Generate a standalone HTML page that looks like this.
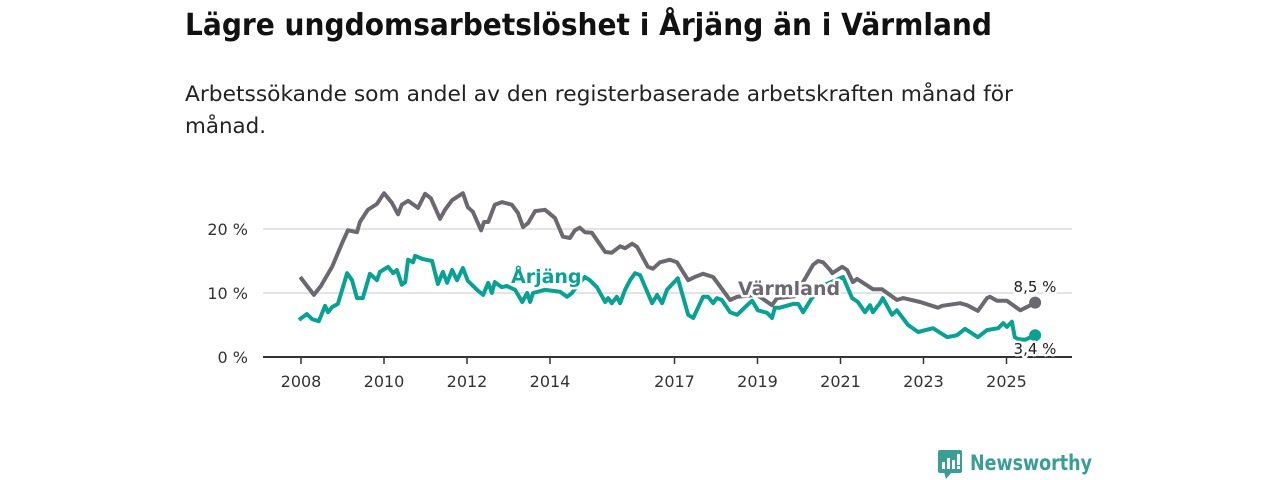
<!DOCTYPE html>
<html><head><meta charset="utf-8"><style>
html,body{margin:0;padding:0;background:#fff;width:1280px;height:480px;overflow:hidden}
svg{display:block;font-family:"DejaVu Sans","Liberation Sans",sans-serif}
</style></head><body>
<svg id="chart" width="1280" height="480" viewBox="0 0 1280 480">
<text x="185" y="35" font-size="30" font-weight="bold" fill="#111" textLength="807" lengthAdjust="spacingAndGlyphs">Lägre ungdomsarbetslöshet i Årjäng än i Värmland</text>
<text x="185" y="101" font-size="21" fill="#222" textLength="828" lengthAdjust="spacingAndGlyphs">Arbetssökande som andel av den registerbaserade arbetskraften månad för</text>
<text x="185" y="133" font-size="21" fill="#222" textLength="81" lengthAdjust="spacingAndGlyphs">månad.</text>
<g id="grid"></g><g id="series"></g><g id="labels"></g>
<g>
<rect x="938" y="450" width="24" height="23" rx="2" fill="#3a9e94"/>
<polygon points="944,472 952,472 946,479" fill="#3a9e94"/>
<rect x="942" y="462" width="3" height="7" fill="#fff"/><rect x="947" y="458" width="3" height="11" fill="#fff"/><rect x="952" y="460" width="3" height="9" fill="#fff"/><rect x="957" y="454" width="3" height="11" fill="#fff"/><rect x="957" y="466" width="3" height="3" fill="#fff"/>
<text x="970" y="470" font-size="21" font-weight="bold" fill="#3a9e94" textLength="122" lengthAdjust="spacingAndGlyphs">Newsworthy</text>
</g>
</svg>
<script>
const yTicks=[0,10,20];
const xTicks=[2008,2010,2012,2014,2017,2019,2021,2023,2025];
const varmYears=[2007.98,2008.31,2008.48,2008.75,2008.99,2009.13,2009.35,2009.42,2009.61,2009.83,2010.0,2010.19,2010.34,2010.43,2010.58,2010.82,2010.99,2011.13,2011.35,2011.47,2011.64,2011.9,2012.02,2012.14,2012.34,2012.41,2012.51,2012.67,2012.84,2013.08,2013.23,2013.35,2013.47,2013.64,2013.88,2014.12,2014.31,2014.48,2014.6,2014.72,2014.84,2015.01,2015.33,2015.49,2015.69,2015.81,2015.98,2016.1,2016.36,2016.48,2016.65,2016.89,2017.06,2017.33,2017.49,2017.69,2017.93,2018.34,2018.51,2018.99,2019.35,2019.47,2019.9,2020.34,2020.46,2020.58,2020.75,2020.8,2021.04,2021.16,2021.3,2021.4,2021.78,2022.0,2022.36,2022.51,2022.92,2023.35,2023.45,2023.88,2024.05,2024.31,2024.53,2024.6,2024.77,2025.01,2025.33,2025.49,2025.69];
const varmValues=[12.5,9.7,11.1,14.1,17.8,19.8,19.5,21.1,23.0,23.9,25.6,24.1,22.3,23.8,24.4,23.3,25.5,24.8,21.6,23.0,24.5,25.6,23.4,22.7,19.8,21.1,21.1,23.8,24.2,23.8,22.5,20.3,20.9,22.8,23.0,21.7,18.8,18.6,19.8,20.2,19.5,19.4,16.4,16.3,17.3,17.0,17.7,17.2,14.1,13.8,14.8,15.2,14.8,12.0,12.5,13.0,12.5,8.9,9.4,9.7,8.1,9.2,9.5,14.4,15.0,14.8,13.6,13.1,14.1,13.6,11.7,12.2,10.6,10.6,8.9,9.2,8.6,7.7,8.0,8.4,8.1,7.2,9.2,9.4,8.8,8.8,7.3,7.8,8.5];
const arjYears=[2007.95,2008.14,2008.27,2008.43,2008.58,2008.65,2008.75,2008.89,2009.11,2009.23,2009.35,2009.49,2009.66,2009.83,2009.9,2010.1,2010.22,2010.31,2010.43,2010.51,2010.58,2010.7,2010.75,2010.94,2011.16,2011.3,2011.42,2011.52,2011.64,2011.76,2011.9,2012.02,2012.24,2012.39,2012.51,2012.6,2012.67,2012.84,2012.96,2013.16,2013.33,2013.45,2013.52,2013.59,2013.88,2014.24,2014.41,2014.53,2014.67,2014.84,2014.96,2015.13,2015.33,2015.4,2015.49,2015.61,2015.69,2015.81,2015.93,2016.05,2016.17,2016.46,2016.58,2016.7,2016.82,2017.08,2017.33,2017.45,2017.69,2017.81,2017.93,2018.02,2018.14,2018.34,2018.51,2018.75,2018.87,2019.01,2019.23,2019.35,2019.42,2019.54,2019.86,2019.98,2020.1,2020.31,2020.63,2021.06,2021.28,2021.42,2021.59,2021.71,2021.78,2021.95,2022.02,2022.24,2022.36,2022.63,2022.87,2023.23,2023.57,2023.81,2024.0,2024.31,2024.53,2024.8,2024.92,2025.01,2025.13,2025.2,2025.28,2025.45,2025.69];
const arjValues=[5.8,6.7,5.9,5.6,8.0,7.0,7.8,8.3,13.1,12.0,9.2,9.2,13.0,12.0,13.3,14.1,13.1,13.6,11.3,11.7,15.2,14.8,15.8,15.3,15.0,11.4,13.3,11.6,13.6,12.0,13.9,11.9,10.5,9.7,11.6,10.0,11.7,10.9,11.1,10.5,8.6,10.0,8.6,10.0,10.5,10.2,9.4,10.0,11.3,12.5,12.0,10.9,8.6,9.2,8.4,9.4,8.4,10.5,12.0,13.1,12.8,8.4,9.7,8.4,10.5,12.3,6.6,6.1,9.4,9.4,8.4,9.2,8.9,7.0,6.6,8.1,8.8,7.3,6.9,6.1,7.7,7.7,8.3,8.3,7.0,9.2,11.3,12.5,9.2,8.6,7.0,8.1,7.0,8.4,9.2,6.6,7.3,5.0,3.9,4.5,3.1,3.4,4.4,3.1,4.2,4.5,5.3,4.7,5.5,3.1,2.8,2.7,3.4];
const X=y=>301+(y-2008)*41.5;
const Y=v=>357-v*6.4;
const NS="http://www.w3.org/2000/svg";
function mk(tag,attrs,parent){const e=document.createElementNS(NS,tag);for(const k in attrs)e.setAttribute(k,attrs[k]);parent.appendChild(e);return e;}
const grid=document.getElementById('grid'),ser=document.getElementById('series'),lab=document.getElementById('labels');
yTicks.forEach(t=>{
  if(t>0){const g=mk('line',{x1:263,x2:1072,y1:Y(t),y2:Y(t),stroke:'#dcdcdc','stroke-width':1.5},grid);
  
  }
  const tx=mk('text',{x:248,y:Y(t)+6,'text-anchor':'end','font-size':16,fill:'#333'},grid);tx.textContent=t+' %';
  
  
});
const ax=mk('line',{x1:263,x2:1072,y1:357,y2:357,stroke:'#333','stroke-width':2},grid);


xTicks.forEach(t=>{
  mk('line',{x1:X(t),x2:X(t),y1:357,y2:364,stroke:'#333','stroke-width':1.5},grid);
  const tx=mk('text',{x:X(t),y:387,'text-anchor':'middle','font-size':16,fill:'#333'},grid);tx.textContent=t;
  
  
});
function line(ys,vs,color,name){
  const d=ys.map((y,i)=>(i?'L':'M')+X(y).toFixed(1)+','+Y(vs[i]).toFixed(1)).join('');
  const p=mk('path',{d:d,fill:'none',stroke:color,'stroke-width':4,'stroke-linejoin':'round'},ser);
  
  
  const c=mk('circle',{cx:X(ys[ys.length-1]),cy:Y(vs[vs.length-1]),r:6,fill:color},ser);
  
  
}
line(varmYears,varmValues,'#6b696f','varmland-line');
line(arjYears,arjValues,'#0aa195','arjang-line');
function label(x,y,txt,color,size,weight,anchor,name){
  const t=mk('text',{x:x,y:y,'font-size':size,'font-weight':weight,fill:color,'text-anchor':anchor,stroke:'#fff','stroke-width':5,'paint-order':'stroke','stroke-linejoin':'round'},lab);
  t.textContent=txt;
  
  
}
label(511,283,'Årjäng','#0aa195',19,'bold','start','arjang-label');
label(738,295,'Värmland','#6b696f',19,'bold','start','varmland-label');
label(1035,292,'8,5 %','#222',15,'normal','middle','varmland-end-value');
label(1035,354,'3,4 %','#222',15,'normal','middle','arjang-end-value');
</script>
</body></html>
